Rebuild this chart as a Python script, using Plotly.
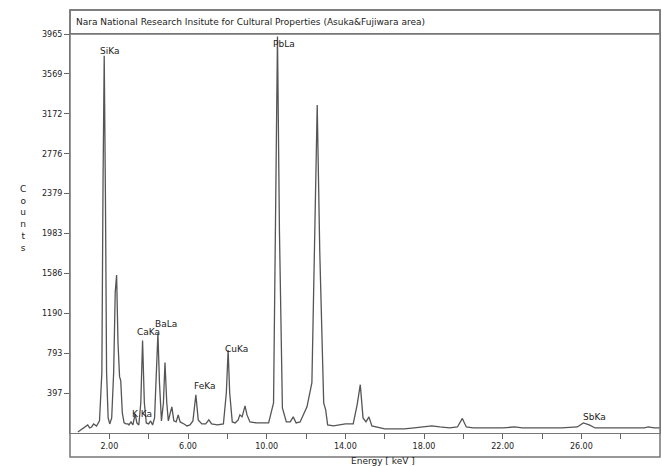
import plotly.graph_objects as go

# spectrum: energy (keV) and counts
energia = [0.40, 0.60, 0.80, 0.90, 1.00, 1.10, 1.20, 1.35, 1.50, 1.62, 1.68, 1.74, 1.80, 1.86, 1.94,
           2.02, 2.12, 2.22, 2.30, 2.37, 2.44, 2.52, 2.58, 2.66, 2.75, 2.85, 2.95, 3.00, 3.10, 3.20,
           3.31, 3.40, 3.50, 3.60, 3.69, 3.78, 3.88, 4.00, 4.10, 4.20, 4.30, 4.40, 4.47, 4.55, 4.65,
           4.75, 4.83, 4.92, 5.00, 5.10, 5.18, 5.28, 5.40, 5.50, 5.60, 5.80, 5.95, 6.10, 6.25, 6.40,
           6.52, 6.70, 6.90, 7.06, 7.20, 7.50, 7.80, 7.95, 8.04, 8.12, 8.25, 8.40, 8.55, 8.64, 8.75,
           8.90, 9.00, 9.15, 9.50, 9.80, 10.10, 10.35, 10.45, 10.55, 10.65, 10.80, 11.00, 11.20, 11.35,
           11.50, 11.70, 11.90, 12.05, 12.30, 12.45, 12.57, 12.70, 12.90, 13.00, 13.10, 13.40, 13.70,
           14.00, 14.40, 14.60, 14.76, 14.90, 15.05, 15.20, 15.35, 15.60, 16.00, 16.50, 17.00, 17.50,
           18.00, 18.40, 18.80, 19.30, 19.70, 19.95, 20.15, 20.50, 21.00, 21.50, 22.00, 22.60, 23.00,
           24.00, 25.00, 25.80, 26.10, 26.40, 26.70, 27.50, 28.50, 29.20, 29.40, 29.70, 30.00]
contagens = [10, 40, 70, 80, 50, 60, 90, 70, 120, 600, 2500, 3750, 2400, 600, 150,
             90, 150, 600, 1400, 1570, 900, 560, 520, 200, 100, 90, 90, 80, 110, 80,
             190, 100, 80, 300, 920, 300, 100, 90, 120, 80, 150, 700, 990, 500, 120,
             300, 700, 300, 120, 200, 260, 120, 110, 180, 110, 90, 70, 80, 120, 380,
             130, 90, 90, 130, 90, 80, 90, 400, 825, 400, 110, 100, 130, 180, 160,
             270, 180, 110, 100, 100, 100, 300, 2000, 3940, 2000, 250, 110, 110, 160,
             100, 110, 200, 260, 500, 2200, 3260, 1800, 300, 230, 80, 70, 80,
             90, 90, 280, 480, 150, 110, 160, 70, 60, 40, 40, 40, 50,
             60, 70, 60, 50, 60, 145, 60, 50, 50, 50, 50, 60, 50,
             50, 50, 60, 100, 80, 50, 50, 50, 50, 60, 50, 50]

# peak labels
picos = ["SiKa", "PbLa", "K Ka", "CaKa", "BaLa", "FeKa", "CuKa", "SbKa"]
picos_x = [2.00, 10.86, 3.67, 4.00, 4.86, 6.85, 8.45, 26.65]
picos_y = [3730, 3800, 120, 930, 1010, 395, 765, 90]

y_ticks = [396.5 * i for i in range(1, 11)]
y_text = ["397", "793", "1190", "1586", "1983", "2379", "2776", "3172", "3569", "3965"]
x_ticks = [2 * i for i in range(1, 15)]
x_text = ["%.2f" % v if v % 4 == 2 else "" for v in x_ticks]

titulo = "Nara National Research Insitute for Cultural Properties (Asuka&Fujiwara area)"

familia = "DejaVu Sans, Arial, sans-serif"
fonte = dict(family=familia, size=8, color="#222222")
fonte_rot = dict(family=familia, size=9, color="#222222")

layout = go.Layout(
    width=662, height=466,
    margin=dict(l=70, r=2, t=34, b=33),
    paper_bgcolor="white", plot_bgcolor="white",
    showlegend=False,
    font=fonte,
    xaxis=dict(range=[0, 30], tickvals=x_ticks, ticktext=x_text, ticks="outside", ticklen=5,
               tickcolor="#666", showgrid=False, zeroline=False, showline=True,
               linecolor="#777", linewidth=1, mirror=True, tickfont=fonte),
    yaxis=dict(range=[0, 3965], tickvals=y_ticks, ticktext=y_text, ticks="outside", ticklen=5,
               tickcolor="#666", showgrid=False, zeroline=False, showline=True,
               linecolor="#777", linewidth=1, mirror=True, tickfont=fonte),
)

fig = go.Figure(layout=layout)
fig.add_trace(go.Scatter(x=energia, y=contagens, mode="lines",
                         line=dict(color="#555555", width=1.3), hoverinfo="skip"))

for nome, px, py in zip(picos, picos_x, picos_y):
    fig.add_annotation(x=px, y=py, text=nome, showarrow=False, xref="x", yref="y",
                       font=fonte_rot, yanchor="bottom")

# title box and outer frame
fig.add_shape(type="rect", xref="paper", yref="paper", x0=0, x1=1, y0=1, y1=1 + 24 / 399,
              line=dict(color="#777", width=1.5))
fig.add_shape(type="rect", xref="paper", yref="paper", x0=0, x1=1, y0=-24 / 399, y1=1 + 24 / 399,
              line=dict(color="#777", width=1.5))
fig.add_annotation(x=0.006, y=1 + 12 / 399, xref="paper", yref="paper", text=titulo,
                   showarrow=False, xanchor="left", yanchor="middle", font=fonte_rot)
fig.add_annotation(x=(383 - 70) / 590, y=-28 / 399, xref="paper", yref="paper",
                   text="Energy [ keV ]", showarrow=False, yanchor="middle", font=fonte_rot)
fig.add_annotation(x=(18 - 70) / 590, y=(433 - 218) / 399, xref="paper", yref="paper",
                   text="C<br>o<br>u<br>n<br>t<br>s", showarrow=False, font=fonte_rot)

fig.write_html("out.html", post_script="document.body.style.margin='0';",
               config={"displayModeBar": False})
